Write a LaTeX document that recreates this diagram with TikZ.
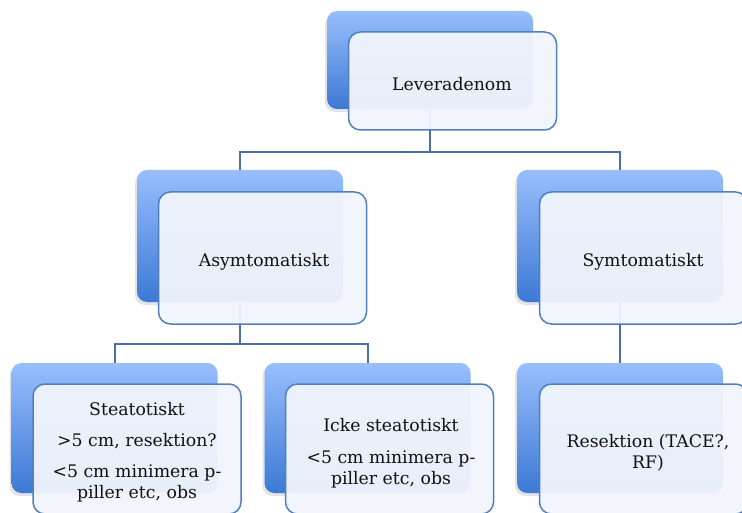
\documentclass[tikz,border=0pt]{standalone}
\usepackage{fontspec}
\setmainfont{DejaVu Serif}
\usetikzlibrary{shadows}
\definecolor{connc}{HTML}{4A6FA5}
\definecolor{framec}{HTML}{4F7FBF}
\definecolor{btop}{HTML}{98BEFC}
\definecolor{bbot}{HTML}{3C79D5}
\definecolor{ffill}{HTML}{F2F6FC}
\definecolor{txtc}{HTML}{111111}
\begin{document}
\begin{tikzpicture}[x=1pt,y=-1pt,
  backbox/.style={rectangle, rounded corners=10pt, minimum width=206pt, inner sep=0pt,
    top color=btop, bottom color=bbot, draw=none,
    drop shadow={shadow xshift=-2pt, shadow yshift=-3pt, opacity=0.22}},
  frontbox/.style={rectangle, rounded corners=12pt, minimum width=208pt, inner sep=0pt,
    draw=framec, line width=1.5pt, fill=ffill, fill opacity=0.94},
  conn/.style={draw=connc, line width=2pt},
  txt/.style={font=\fontsize{17.3}{21}\selectfont, text=txtc, align=center, inner sep=0pt}]
\useasboundingbox (0,0) rectangle (742,513);
\fill[white] (0,0) rectangle (742,513);
\clip (0,0) rectangle (742,513);
% back boxes
\node[backbox, minimum height=98pt]  (b0) at (430,60) {};
\node[backbox, minimum height=132pt] (b1) at (240,236) {};
\node[backbox, minimum height=132pt] (b2) at (620,236) {};
\node[backbox, minimum height=130pt] (b3) at (114.5,428) {};
\node[backbox, minimum height=130pt] (b4) at (367.5,428) {};
\node[backbox, minimum height=130pt] (b5) at (620,428) {};
% connectors
\coordinate (j0) at (0,152);
\coordinate (j1) at (0,344);
\draw[conn] (b0.south) -- (b0.south |- j0) -| (b1.north);
\draw[conn] (b0.south |- j0) -| (b2.north);
\draw[conn] (b1.south) -- (b1.south |- j1) -| (b3.north);
\draw[conn] (b1.south |- j1) -| (b4.north);
\draw[conn] (b2.south) -- (b5.north);
% front boxes
\node[frontbox, minimum height=98pt]  (f0) at (452.5,81) {};
\node[frontbox, minimum height=132pt] (f1) at (262.5,258) {};
\node[frontbox, minimum height=132pt] (f2) at (643.5,258) {};
\node[frontbox, minimum height=130pt] (f3) at (137,449) {};
\node[frontbox, minimum height=130pt] (f4) at (389.5,449) {};
\node[frontbox, minimum height=130pt] (f5) at (643.5,449) {};
% texts
\node[txt, anchor=base] (t0) at (452,91) {Leveradenom};
\node[txt, anchor=base] (t1) at (264,266) {Asymtomatiskt};
\node[txt, anchor=base] (t2) at (643,267) {Symtomatiskt};
\node[txt] (t3) at (137,452.5) {Steatotiskt\\[10pt] >5 cm, resektion?\\[10pt] <5 cm minimera p-\\ piller etc, obs};
\node[txt] (t4) at (391,453.5) {Icke steatotiskt\\[11pt] <5 cm minimera p-\\ piller etc, obs};
\node[txt] (t5) at (648,452.5) {Resektion (TACE?,\\ RF)};
\end{tikzpicture}
\end{document}
